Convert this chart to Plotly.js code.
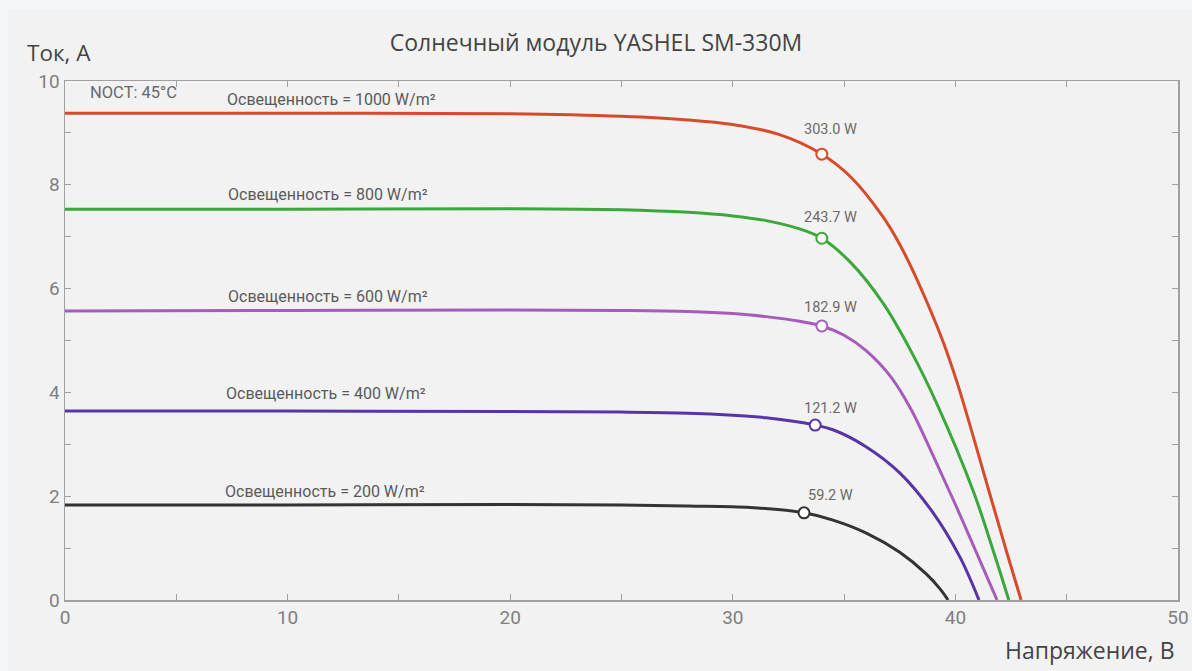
<!DOCTYPE html>
<html>
<head>
<meta charset="utf-8">
<script src="https://cdn.plot.ly/plotly-3.0.1.min.js"></script>
<style>html,body{margin:0;padding:0;background:#f4f7f9;}#chart{width:1192px;height:671px;}</style>
</head>
<body>
<div id="chart"></div>
<script>
// Irradiance levels (W/m²)
const irradiance = [1000, 800, 600, 400, 200];
const seriesColors = ['#d84b2a', '#3aa83a', '#a65cba', '#5834a6', '#333333'];

// I-V curves: voltage (V) and current (A)
const v1000 = [0, 10, 20, 25, 28, 30, 32, 34.0, 35.3, 36.75, 37.5, 38.3, 39.4, 40.1, 41.5, 42.3, 42.95];
const i1000 = [9.38, 9.38, 9.37, 9.32, 9.25, 9.16, 8.98, 8.59, 8.15, 7.38, 6.85, 6.15, 5.03, 4.16, 2.11, 0.93, 0];

const v800 = [0, 10, 20, 25, 28, 30, 31.5, 33.0, 34.0, 35.3, 36.75, 38.0, 39.2, 40.8, 41.7, 42.4];
const i800 = [7.53, 7.53, 7.54, 7.52, 7.47, 7.40, 7.31, 7.15, 6.97, 6.50, 5.72, 4.80, 3.75, 2.10, 0.95, 0];

const v600 = [0, 10, 20, 25, 28, 30, 31.5, 33.0, 34.0, 35.0, 36.0, 37.1, 38.0, 39.0, 40.0, 41.0, 41.87];
const i600 = [5.57, 5.58, 5.59, 5.58, 5.56, 5.52, 5.46, 5.37, 5.28, 5.10, 4.80, 4.30, 3.68, 2.78, 1.84, 0.86, 0];

const v400 = [0, 10, 20, 25, 28, 30, 31.5, 33.7, 34.5, 36.0, 37.5, 39.0, 40.2, 41.06];
const i400 = [3.64, 3.64, 3.63, 3.62, 3.60, 3.56, 3.51, 3.37, 3.28, 2.95, 2.45, 1.68, 0.83, 0];

const v200 = [0, 10, 20, 25, 28, 30.8, 33.2, 34.5, 36.0, 37.5, 38.7, 39.3, 39.67];
const i200 = [1.83, 1.83, 1.84, 1.83, 1.81, 1.78, 1.68, 1.54, 1.29, 0.92, 0.50, 0.22, 0];

// Maximum power points
const mppV = [34.0, 34.0, 34.0, 33.7, 33.2];
const mppI = [8.59, 6.97, 5.28, 3.37, 1.68];
const mppLabels = ['303.0 W', '243.7 W', '182.9 W', '121.2 W', '59.2 W'];

// Curve labels
const curveLabels = irradiance.map(g => 'Освещенность = ' + g + ' W/m²');

const xTickVals = [0, 10, 20, 30, 40, 50];
const yTickVals = [0, 2, 4, 6, 8, 10];

const V = [v1000, v800, v600, v400, v200];
const I = [i1000, i800, i600, i400, i200];

// label placement (layout only)
const labelX = [7.2, 7.25, 7.25, 7.15, 7.1];
const labelY = [9.65, 7.82, 5.84, 3.97, 2.10];
const powerShift = [25, 21, 18, 17, 17];

const traces = [];
for (let k = 0; k < irradiance.length; k++) {
  traces.push({
    x: V[k], y: I[k], type: 'scatter', mode: 'lines',
    line: {color: seriesColors[k], width: 3, shape: 'spline', smoothing: 1.0},
    hoverinfo: 'skip', showlegend: false
  });
}
for (let k = 0; k < irradiance.length; k++) {
  traces.push({
    x: [mppV[k]], y: [mppI[k]], type: 'scatter', mode: 'markers',
    marker: {size: 11, color: '#ffffff', line: {color: seriesColors[k], width: 2}},
    hoverinfo: 'skip', showlegend: false
  });
}

const annotations = [];
for (let k = 0; k < irradiance.length; k++) {
  annotations.push({
    x: labelX[k], y: labelY[k], xref: 'x', yref: 'y', xanchor: 'left', yanchor: 'middle',
    text: curveLabels[k], showarrow: false,
    font: {family: 'Roboto, sans-serif', size: 16, color: '#5a5a5a'}
  });
  annotations.push({
    x: 34.4, y: mppI[k], xref: 'x', yref: 'y', xanchor: 'center', yanchor: 'middle',
    yshift: powerShift[k], text: mppLabels[k], showarrow: false,
    font: {family: 'Roboto, sans-serif', size: 14.5, color: '#6a6a6a'}
  });
}
annotations.push({
  x: 0.0205, y: 0.978, xref: 'paper', yref: 'paper', xanchor: 'left', yanchor: 'middle',
  text: 'NOCT: 45°C', showarrow: false,
  font: {family: 'Roboto, sans-serif', size: 16.5, color: '#6a6a6a'}
});
annotations.push({
  x: -0.036, y: 1.054, xref: 'paper', yref: 'paper', xanchor: 'left', yanchor: 'middle',
  text: 'Ток, А', showarrow: false,
  font: {family: 'Open Sans, sans-serif', size: 22.5, color: '#444444'}
});
annotations.push({
  x: 0.999, y: -0.0963, xref: 'paper', yref: 'paper', xanchor: 'right', yanchor: 'middle',
  text: 'Напряжение, В', showarrow: false,
  font: {family: 'Open Sans, sans-serif', size: 23, color: '#444444'}
});

const axisCommon = {
  showgrid: false, zeroline: false, showline: true, linecolor: '#a0a0a0', linewidth: 1.5,
  mirror: 'ticks', ticks: 'inside', ticklen: 6, tickwidth: 1, tickcolor: '#a0a0a0',
  tickfont: {family: 'Roboto, sans-serif', size: 19, color: '#808080'}
};

const layout = {
  width: 1192, height: 671,
  margin: {l: 65, r: 14, t: 81, b: 71},
  paper_bgcolor: '#f4f7f9', plot_bgcolor: '#f2f2f2',
  title: {
    text: 'Солнечный модуль YASHEL SM-330M',
    font: {family: 'Open Sans, sans-serif', size: 23, color: '#444444'},
    x: 0.5, xanchor: 'center', y: 1 - 43 / 671, yanchor: 'middle', xref: 'container', yref: 'container'
  },
  xaxis: Object.assign({}, axisCommon, {
    range: [0, 50], tickvals: xTickVals, ticktext: xTickVals.map(String),
    minor: {dtick: 5, ticks: 'inside', ticklen: 6, tickcolor: '#a0a0a0'}
  }),
  yaxis: Object.assign({}, axisCommon, {
    range: [0, 10], tickvals: yTickVals, ticktext: yTickVals.map(String),
    minor: {dtick: 1, ticks: 'inside', ticklen: 6, tickcolor: '#a0a0a0'}
  }),
  shapes: [{
    type: 'rect', xref: 'paper', yref: 'paper', layer: 'below',
    x0: -0.0512, x1: 1.02, y0: -0.2, y1: 1.1387,
    fillcolor: '#f2f2f2', line: {width: 0}
  }],
  annotations: annotations
};

Plotly.newPlot('chart', traces, layout, {displayModeBar: false, staticPlot: true});
</script>
</body>
</html>
